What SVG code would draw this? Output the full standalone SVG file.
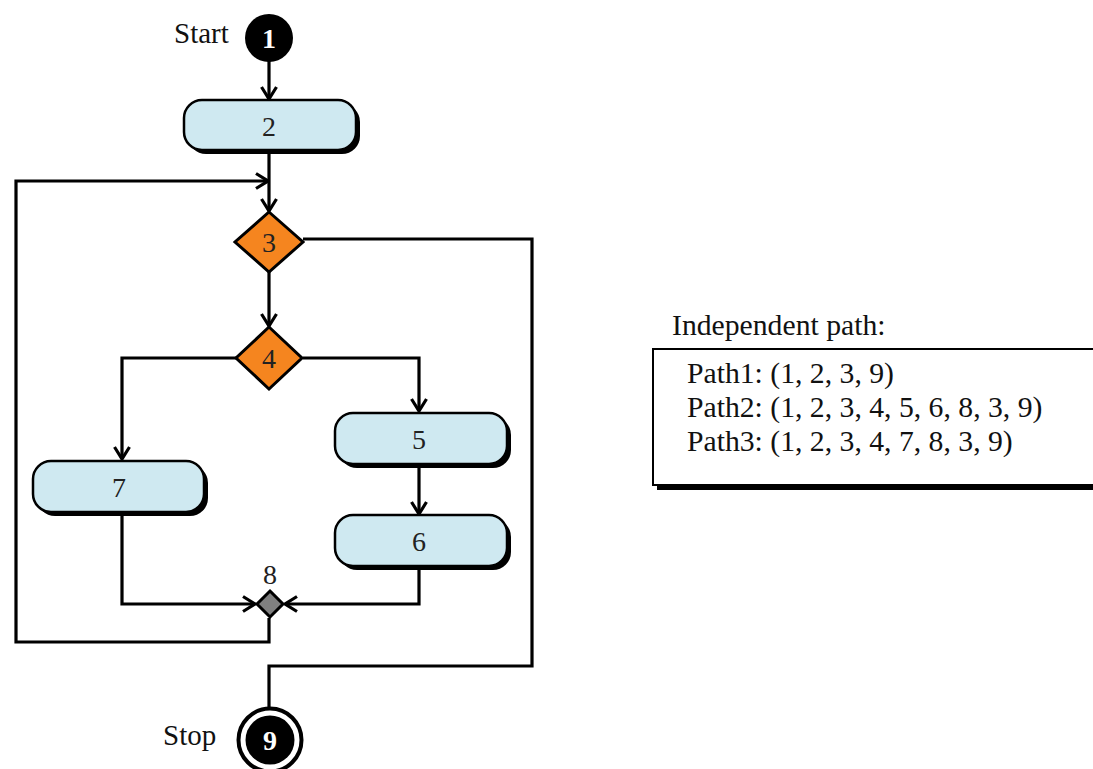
<svg xmlns="http://www.w3.org/2000/svg" width="1093" height="769" viewBox="0 0 1093 769">
  <style>
    .lbl { font-family: "Liberation Serif", "Times New Roman", serif; font-size: 29px; fill: #111; }
    .num { font-family: "Liberation Serif", "Times New Roman", serif; font-size: 28px; text-anchor: middle; fill: #222; }
    .wnum { font-family: "Liberation Serif", "Times New Roman", serif; font-size: 28px; font-weight: bold; text-anchor: middle; fill: #fff; }
    .act { fill: #cfe9f1; stroke: #000; stroke-width: 2.5; }
    .shadow { fill: #000; }
    .dec { fill: #f5851f; stroke: #000; stroke-width: 3; }
    .merge { fill: #808080; stroke: #000; stroke-width: 3; }
    .edge { fill: none; stroke: #000; stroke-width: 3.2; stroke-linejoin: miter; }
    .arrow { marker-end: url(#chev); }
    .ptext { font-family: "Liberation Serif", "Times New Roman", serif; font-size: 29.7px; fill: #111; }
  </style>
  <defs>
    <marker id="chev" markerUnits="userSpaceOnUse" viewBox="0 0 15 18" refX="13.5" refY="9" markerWidth="15" markerHeight="18" orient="auto">
      <path d="M1.5,1.5 L13.5,9 L1.5,16.5" fill="none" stroke="#000" stroke-width="3.2"/>
    </marker>
  </defs>
  <rect width="1093" height="769" fill="#fff"/>

  <!-- connectors -->
  <g id="connectors">
    <path class="edge arrow" d="M269,61 V99"/>
    <path class="edge arrow" d="M269,152 V211"/>
    <path class="edge arrow" d="M269,272 V326"/>
    <path class="edge arrow" d="M303,358 H419 V411"/>
    <path class="edge arrow" d="M236,358 H122 V459"/>
    <path class="edge arrow" d="M419,466 V514"/>
    <path class="edge arrow" d="M419,568 V604 H285"/>
    <path class="edge arrow" d="M122,515 V604 H255"/>
    <path class="edge arrow" d="M269,618 V642 H16 V181 H268"/>
    <path class="edge" d="M303,239 H532 V666 H269 V710"/>
  </g>

  <!-- start -->
  <g id="node1">
    <text class="lbl" x="174" y="43">Start</text>
    <circle cx="269" cy="38" r="24" fill="#000"/>
    <text class="wnum" x="269" y="48">1</text>
  </g>

  <g id="node2">
    <rect class="shadow" x="188" y="104" width="172" height="50" rx="18"/>
    <rect class="act" x="184" y="100" width="172" height="50" rx="18"/>
    <text class="num" x="269" y="136">2</text>
  </g>

  <g id="node3">
    <polygon class="dec" points="269,212 303,242 269,272 235,242"/>
    <text class="num" x="269" y="252">3</text>
  </g>

  <g id="node4">
    <polygon class="dec" points="269,327 302,358 269,389 236,358"/>
    <text class="num" x="269" y="368">4</text>
  </g>

  <g id="node5">
    <rect class="shadow" x="339" y="417" width="172" height="51" rx="18"/>
    <rect class="act" x="335" y="413" width="172" height="51" rx="18"/>
    <text class="num" x="419" y="449">5</text>
  </g>

  <g id="node6">
    <rect class="shadow" x="339" y="519" width="172" height="51" rx="18"/>
    <rect class="act" x="335" y="515" width="172" height="51" rx="18"/>
    <text class="num" x="419" y="551">6</text>
  </g>

  <g id="node7">
    <rect class="shadow" x="37" y="465" width="171" height="51" rx="18"/>
    <rect class="act" x="33" y="461" width="171" height="51" rx="18"/>
    <text class="num" x="119" y="497">7</text>
  </g>

  <g id="node8">
    <text class="num" x="270" y="584">8</text>
    <polygon class="merge" points="270,591 283,604 270,617 257,604"/>
  </g>

  <!-- stop -->
  <g id="node9">
    <text class="lbl" x="163" y="745">Stop</text>
    <circle cx="270" cy="740" r="31.5" fill="#fff" stroke="#000" stroke-width="4"/>
    <circle cx="270" cy="740" r="24.5" fill="#000"/>
    <text class="wnum" x="270" y="750">9</text>
  </g>

  <!-- path listing -->
  <g id="paths">
    <text class="ptext" x="672" y="335">Independent path:</text>
    <rect x="657" y="353" width="450" height="137" fill="#000"/>
    <rect x="653" y="349" width="450" height="136" fill="#fff" stroke="#000" stroke-width="2"/>
    <text class="ptext" x="687" y="383">Path1: (1, 2, 3, 9)</text>
    <text class="ptext" x="687" y="417">Path2: (1, 2, 3, 4, 5, 6, 8, 3, 9)</text>
    <text class="ptext" x="687" y="451">Path3: (1, 2, 3, 4, 7, 8, 3, 9)</text>
  </g>
</svg>
